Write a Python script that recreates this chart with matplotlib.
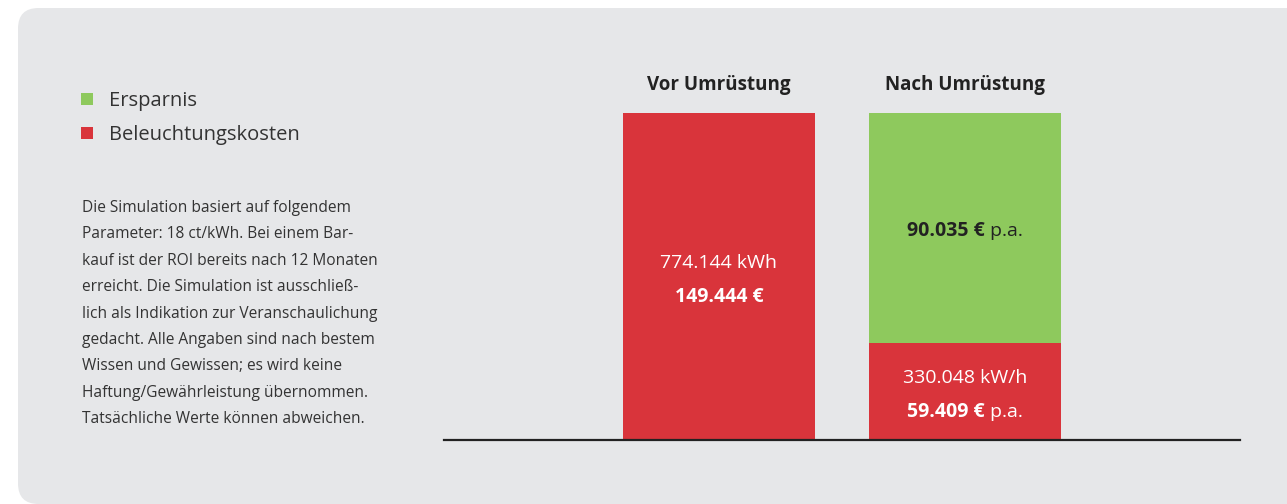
import matplotlib
matplotlib.use("Agg")
import matplotlib.pyplot as plt
from matplotlib.patches import FancyBboxPatch, Rectangle

W, H = 1287, 504

categories = ["Vor Umrüstung", "Nach Umrüstung"]
# share of the bar height
kosten_anteil = [100.0, 29.7]
ersparnis_anteil = [0.0, 70.3]

kosten_zeile1 = ["774.144 kWh", "330.048 kW/h"]
kosten_zeile2 = [("149.444 €", ""), ("59.409 €", " p.a.")]
ersparnis_text = ("90.035 €", " p.a.")

legend_labels = ["Ersparnis", "Beleuchtungskosten"]

note_lines = [
    "Die Simulation basiert auf folgendem",
    "Parameter: 18 ct/kWh. Bei einem Bar-",
    "kauf ist der ROI bereits nach 12 Monaten",
    "erreicht. Die Simulation ist ausschließ-",
    "lich als Indikation zur Veranschaulichung",
    "gedacht. Alle Angaben sind nach bestem",
    "Wissen und Gewissen; es wird keine",
    "Haftung/Gewährleistung übernommen.",
    "Tatsächliche Werte können abweichen.",
]

RED = "#d9343b"
GREEN = "#8ec95d"
PANEL = "#e6e7e9"
DARK = "#222222"
TEXT = "#333333"

plt.rcParams['font.family'] = ['Open Sans', 'DejaVu Sans']

fig = plt.figure(figsize=(W / 100, H / 100), dpi=100)
fig.patch.set_facecolor("white")


def fx(x):
    return x / W


def fy(y):
    return 1 - y / H


# background panel, running off the right edge
panel = FancyBboxPatch((fx(18), fy(504)), fx(1340 - 18), (504 - 8) / H,
                       boxstyle="round,pad=0,rounding_size=0.016",
                       mutation_aspect=W / H,
                       transform=fig.transFigure, facecolor=PANEL,
                       edgecolor="none", zorder=-5)
fig.patches.append(panel)

# bar axes: baseline at y=440, top of bars at y=113
ax = fig.add_axes([fx(444), fy(440), fx(1240 - 444), (440 - 113) / H])
ax.set_facecolor("none")
ax.set_zorder(2)
x = [0, 1]
width = 192 / 246
ax.bar(x, kosten_anteil, width=width, color=RED, zorder=2)
ax.bar(x, ersparnis_anteil, width=width, bottom=kosten_anteil, color=GREEN, zorder=2)
ax.set_xlim(-(719 - 444) / 246, 1 + (1240 - 965) / 246)
ax.set_ylim(0, 100)
for s in ["top", "left", "right"]:
    ax.spines[s].set_visible(False)
ax.spines["bottom"].set_color(DARK)
ax.spines["bottom"].set_linewidth(1.6)
ax.spines["bottom"].set_zorder(3)
ax.set_xticks([])
ax.set_yticks([])

for i, cat in enumerate(categories):
    ax.annotate(cat, (x[i], 100), xytext=(0, 20), textcoords="offset points",
                ha="center", va="center", fontsize=13.5, fontweight="bold",
                color=DARK, annotation_clip=False)

fig.canvas.draw()
renderer = fig.canvas.get_renderer()

LABEL_SIZE = 14


def mixed(xc, yc, bold, regular, color, dy):
    t1 = ax.annotate(bold, (xc, yc), xytext=(0, dy), textcoords="offset points",
                     ha="left", va="center", fontsize=LABEL_SIZE, fontweight="bold",
                     color=color)
    if not regular:
        t1.set_ha("center")
        return
    t2 = ax.annotate(regular, (xc, yc), xytext=(0, dy), textcoords="offset points",
                     ha="left", va="center", fontsize=LABEL_SIZE, color=color)
    w1 = t1.get_window_extent(renderer).width
    w2 = t2.get_window_extent(renderer).width
    total = w1 + w2
    t1.xyann = (-total / 2 * 72 / 100, dy)
    t2.xyann = ((-total / 2 + w1) * 72 / 100, dy)


for i in range(2):
    mid = kosten_anteil[i] / 2
    ax.annotate(kosten_zeile1[i], (x[i], mid), xytext=(0, 9.8), textcoords="offset points",
                ha="center", va="center", fontsize=LABEL_SIZE, color="white")
    mixed(x[i], mid, kosten_zeile2[i][0], kosten_zeile2[i][1], "white", -14.5)

mixed(x[1], kosten_anteil[1] + ersparnis_anteil[1] / 2,
      ersparnis_text[0], ersparnis_text[1], DARK, -2.5)

# legend
for j, (lab, col) in enumerate(zip(legend_labels, [GREEN, RED])):
    yc = 99 + j * 34
    fig.patches.append(Rectangle((fx(81), fy(yc + 6)), fx(12), 12 / H,
                                 transform=fig.transFigure, facecolor=col,
                                 edgecolor="none"))
    fig.text(fx(109), fy(yc + 2), lab, ha="left", va="center", fontsize=14.5,
             color=TEXT)

# note
for k, line in enumerate(note_lines):
    fig.text(fx(82), fy(208 + k * 26.4), line, ha="left", va="center",
             fontsize=11.2, color=TEXT)

fig.savefig("out.png", dpi=100, facecolor=fig.get_facecolor())
